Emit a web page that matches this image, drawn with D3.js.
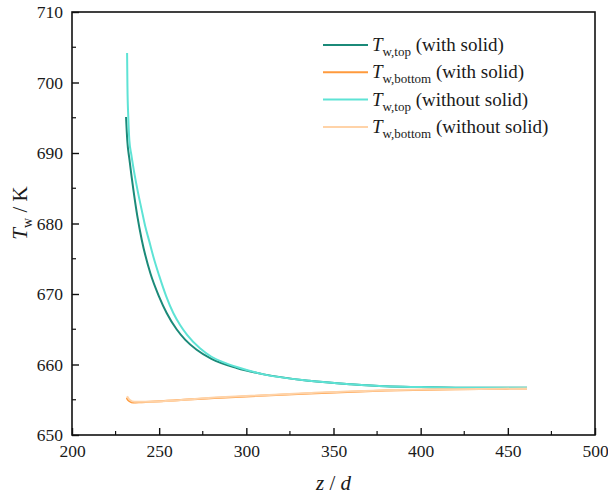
<!DOCTYPE html>
<html>
<head>
<meta charset="utf-8">
<script src="https://cdn.jsdelivr.net/npm/d3@7"></script>
<style>
  body { margin: 0; background: #fff; }
  svg text { font-family: "Liberation Serif", "DejaVu Serif", serif !important; fill: #1a1a1a; }
</style>
</head>
<body>
<div id="chart"></div>
<script>
// --------------------------------------
//  Data
// --------------------------------------

const zTopSolid = [231.0, 231.7, 233, 235.2, 237.5, 240, 245, 250, 254.3, 260, 265, 271.5, 280, 294.5, 310, 336, 360, 380, 400, 430, 461];
const tTopSolid = [695.1, 691.8, 689.0, 684.8, 681.0, 677.7, 672.9, 669.6, 667.3, 665.0, 663.5, 662.1, 660.8, 659.5, 658.6, 657.7, 657.2, 656.9, 656.8, 656.7, 656.7];

const zBotSolid = [231.4, 232, 233, 235, 240, 285, 336, 380, 420, 461];
const tBotSolid = [655.3, 655.0, 654.8, 654.6, 654.65, 655.3, 655.9, 656.3, 656.5, 656.6];

const zTopNoSolid = [231.6, 231.8, 232.3, 232.9, 234, 235.5, 237.7, 240, 242, 244.3, 247, 250, 254, 258.1, 262, 266, 273.4, 280, 287, 295, 310, 336, 360, 380, 400, 430, 461];
const tTopNoSolid = [704.2, 699.5, 695.0, 691.8, 689.8, 687.5, 684.6, 681.9, 679.6, 677.5, 675.0, 672.6, 669.7, 667.3, 665.6, 664.2, 662.3, 661.1, 660.3, 659.6, 658.6, 657.7, 657.2, 656.9, 656.8, 656.7, 656.7];

const zBotNoSolid = [231.6, 233, 236, 240, 285, 336, 380, 420, 461];
const tBotNoSolid = [655.5, 655.0, 654.7, 654.7, 655.35, 655.95, 656.35, 656.5, 656.6];

const xTicks = [200, 250, 300, 350, 400, 450, 500];
const yTicks = [650, 660, 670, 680, 690, 700, 710];

const series = [
  { sub: "w,top",    note: " (with solid)",    color: "#1b8a79", z: zTopSolid,   t: tTopSolid },
  { sub: "w,bottom", note: " (with solid)",    color: "#ff9a3c", z: zBotSolid,   t: tBotSolid },
  { sub: "w,top",    note: " (without solid)", color: "#5ee3d5", z: zTopNoSolid, t: tTopNoSolid },
  { sub: "w,bottom", note: " (without solid)", color: "#ffd3a8", z: zBotNoSolid, t: tBotNoSolid }
];

// --------------------------------------
//  Canvas
// --------------------------------------

const width = 608, height = 496;
const margin = { top: 12, right: 13, bottom: 61, left: 72 };
const innerwidth = width - margin.left - margin.right;
const innerheight = height - margin.top - margin.bottom;

const svg = d3.select("#chart")
  .append("svg")
    .attr("width", width)
    .attr("height", height);

const inner = svg.append("g")
    .attr("transform", `translate(${margin.left}, ${margin.top})`);

// --------------------------------------
//  Scales
// --------------------------------------

const x = d3.scaleLinear().domain([200, 500]).range([0, innerwidth]);
const y = d3.scaleLinear().domain([650, 710]).range([innerheight, 0]);

// --------------------------------------
//  Axes (ticks inward)
// --------------------------------------

const xMinor = d3.range(225, 500, 50);
const yMinor = d3.range(655, 710, 10);

const xAxis = inner.append("g")
    .attr("transform", `translate(0, ${innerheight})`)
    .call(d3.axisBottom(x).tickValues(xTicks).tickSize(-7).tickPadding(10).tickFormat(d3.format("d")));
const yAxis = inner.append("g")
    .call(d3.axisLeft(y).tickValues(yTicks).tickSize(-7).tickPadding(9).tickFormat(d3.format("d")));

[xAxis, yAxis].forEach(a => {
  a.attr("font-family", null);
  a.select(".domain").remove();
  a.selectAll("line").attr("stroke", "#111").attr("stroke-width", 1.4);
  a.selectAll("text").style("font-size", "17.5px").attr("fill", "#1a1a1a");
});

inner.append("g").selectAll("line").data(xMinor).join("line")
    .attr("x1", d => x(d)).attr("x2", d => x(d))
    .attr("y1", innerheight).attr("y2", innerheight - 4)
    .attr("stroke", "#111").attr("stroke-width", 1.2);
inner.append("g").selectAll("line").data(yMinor).join("line")
    .attr("x1", 0).attr("x2", 4)
    .attr("y1", d => y(d)).attr("y2", d => y(d))
    .attr("stroke", "#111").attr("stroke-width", 1.2);

// --------------------------------------
//  Lines
// --------------------------------------

const line = d3.line()
  .curve(d3.curveMonotoneX)
  .x(d => x(d[0]))
  .y(d => y(d[1]));

series.forEach(s => {
  inner.append("path")
    .datum(d3.zip(s.z, s.t))
    .attr("fill", "none")
    .attr("stroke", s.color)
    .attr("stroke-width", 2)
    .attr("d", line);
});

// frame
inner.append("rect")
    .attr("width", innerwidth).attr("height", innerheight)
    .attr("fill", "none").attr("stroke", "#111").attr("stroke-width", 1.6);

// --------------------------------------
//  Legend
// --------------------------------------

const legend = svg.append("g").attr("transform", "translate(323, 45)");

series.forEach((s, i) => {
  const row = legend.append("g").attr("transform", `translate(0, ${i * 27.3})`);
  row.append("line")
    .attr("x1", 0).attr("x2", 45)
    .attr("stroke", s.color).attr("stroke-width", 2);
  const t = row.append("text").attr("x", 49).attr("y", 6).style("font-size", "19px");
  t.append("tspan").text("T").style("font-style", "italic");
  t.append("tspan").text(s.sub).attr("dy", 5).style("font-size", "13px");
  t.append("tspan").text(s.note).attr("dy", -5);
});

// --------------------------------------
//  Axis titles
// --------------------------------------

const xt = svg.append("text")
    .attr("x", margin.left + innerwidth / 2)
    .attr("y", 490)
    .attr("text-anchor", "middle")
    .style("font-size", "21px")
    .style("font-style", "italic");
xt.append("tspan").text("z");
xt.append("tspan").text(" / ").style("font-style", "normal");
xt.append("tspan").text("d");

const yt = svg.append("text")
    .attr("transform", "translate(27, 213) rotate(-90)")
    .attr("text-anchor", "middle")
    .style("font-size", "21px");
yt.append("tspan").text("T").style("font-style", "italic");
yt.append("tspan").text("w").attr("dy", 5).style("font-size", "14px");
yt.append("tspan").text(" / K").attr("dy", -5);
</script>
</body>
</html>
